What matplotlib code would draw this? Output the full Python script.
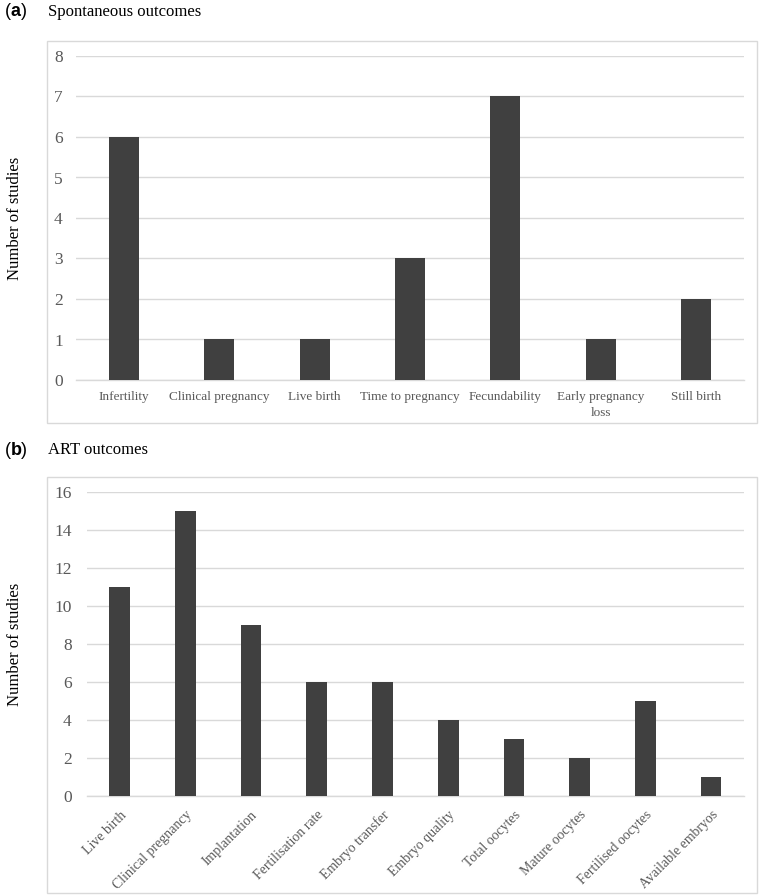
import matplotlib
matplotlib.use("Agg")
import matplotlib.pyplot as plt
from matplotlib.patches import Rectangle

# ---- data ----
spont_categories = ["Infertility", "Clinical pregnancy", "Live birth", "Time to pregnancy",
                    "Fecundability", "Early pregnancy\nloss", "Still birth"]
spont_values = [6, 1, 1, 3, 7, 1, 2]

art_categories = ["Live birth", "Clinical pregnancy", "Implantation", "Fertilisation rate",
                  "Embryo transfer", "Embryo quality", "Total oocytes", "Mature oocytes",
                  "Fertilised oocytes", "Available embryos"]
art_values = [11, 15, 9, 6, 6, 4, 3, 2, 5, 1]

spont_yticks = [0, 1, 2, 3, 4, 5, 6, 7, 8]
art_yticks = [0, 2, 4, 6, 8, 10, 12, 14, 16]

# ---- style ----
W, H = 759, 896
SERIF = "Liberation Serif"
SANS = "Liberation Sans"
BAR = "#404040"
GRID = "#d9d9d9"
TICK = "#595959"

fig = plt.figure(figsize=(W / 100, H / 100), dpi=100)


def fx(px):
    return px / W


def fy(py):
    return 1 - py / H


def panel(box, axrect, cats, vals, yticks, ylim, rot, title, letter, title_y, ylab_y, ypad):
    x0, y0, x1, y1 = box
    fig.add_artist(Rectangle((fx(x0), fy(y1)), fx(x1) - fx(x0), fy(y0) - fy(y1),
                             transform=fig.transFigure, fill=False,
                             edgecolor=GRID, linewidth=1.0, zorder=0))
    l, t, r, b = axrect
    ax = fig.add_axes([fx(l), fy(b), fx(r) - fx(l), fy(t) - fy(b)])
    x = list(range(len(cats)))
    ax.bar(x, vals, width=0.313, color=BAR, zorder=3)
    ax.set_xlim(-0.5, len(cats) - 0.5)
    ax.set_ylim(*ylim)
    ax.set_yticks(yticks)
    ax.set_yticklabels([str(v) for v in yticks], fontfamily=SERIF, fontsize=12.5, color=TICK)
    ax.yaxis.grid(True, color=GRID, linewidth=1.0, zorder=0)
    ax.set_axisbelow(True)
    for s in ["top", "right", "left"]:
        ax.spines[s].set_visible(False)
    ax.spines["bottom"].set_color(GRID)
    ax.spines["bottom"].set_linewidth(1.0)
    ax.tick_params(axis="both", length=0)
    ax.tick_params(axis="y", pad=ypad)
    ax.set_xticks(x)
    if rot:
        ax.set_xticklabels(cats, fontfamily=SERIF, fontsize=10, color=TICK,
                           rotation=45, ha="right", rotation_mode="anchor")
        ax.tick_params(axis="x", pad=9)
    else:
        ax.set_xticklabels(cats, fontfamily=SERIF, fontsize=9.5, color=TICK,
                           linespacing=1.4)
        ax.tick_params(axis="x", pad=8)
    ax.set_facecolor("none")
    # titles
    fig.text(fx(5), fy(title_y), "(", fontfamily=SANS, fontsize=13, va="center", ha="left")
    fig.text(fx(10.5), fy(title_y), letter, fontfamily=SANS, fontsize=13, fontweight="bold",
             va="center", ha="left")
    fig.text(fx(20.5), fy(title_y), ")", fontfamily=SANS, fontsize=13, va="center", ha="left")
    fig.text(fx(48), fy(title_y), title, fontfamily=SERIF, fontsize=12, va="center", ha="left")
    fig.text(fx(15), fy(ylab_y), "Number of studies", fontfamily=SERIF, fontsize=12,
             rotation=90, va="center", ha="center")
    return ax


panel((47, 41, 757, 423), (76, 56, 744, 380), spont_categories, spont_values,
      spont_yticks, (0, 8), False, "Spontaneous outcomes", "a", 12, 218, 9.5)
panel((47, 477, 757, 893), (86.7, 492, 744, 796), art_categories, art_values,
      art_yticks, (0, 16), True, "ART outcomes", "b", 450, 644, 10.8)

fig.savefig("out.png", dpi=100, facecolor="white")
